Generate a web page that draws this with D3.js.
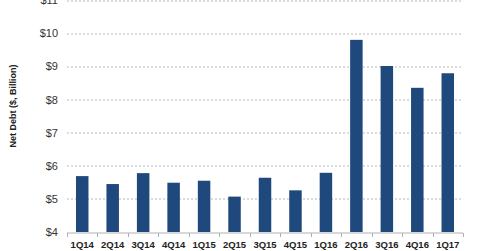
<!DOCTYPE html>
<html>
<head>
<meta charset="utf-8">
<script src="https://cdn.jsdelivr.net/npm/d3@7"></script>
<style>
  body { margin: 0; background: #fff; }
  #chart { width: 480px; height: 251px; }
  text { font-family: "Liberation Sans", Arial, sans-serif; }
</style>
</head>
<body>
<div id="chart"></div>
<script>
const quarters = ["1Q14", "2Q14", "3Q14", "4Q14", "1Q15", "2Q15", "3Q15", "4Q15", "1Q16", "2Q16", "3Q16", "4Q16", "1Q17"];
const netDebt = [5.69, 5.45, 5.78, 5.49, 5.55, 5.07, 5.64, 5.26, 5.79, 9.81, 9.02, 8.36, 8.80];
const yTicks = [4, 5, 6, 7, 8, 9, 10, 11];

const width = 480, height = 251;
const margin = { top: 0.5, right: 17, bottom: 19, left: 67 };
const w = width - margin.left - margin.right;
const h = height - margin.top - margin.bottom;

const svg = d3.select("#chart").append("svg")
    .attr("width", width)
    .attr("height", height);

const g = svg.append("g")
    .attr("transform", `translate(${margin.left},${margin.top})`);

const x = d3.scaleBand().domain(quarters).range([0, w]).paddingInner(0.59).paddingOuter(0.295);
const y = d3.scaleLinear().domain([4, 11]).range([h, 0]);

// gridlines
g.selectAll(".grid")
    .data(yTicks.filter(d => d > 4))
    .enter().append("line")
    .attr("x1", 0).attr("x2", w)
    .attr("y1", d => Math.round(y(d)) + 0.5)
    .attr("y2", d => Math.round(y(d)) + 0.5)
    .attr("stroke", "#b8b8b8")
    .attr("stroke-dasharray", "2,2");

// y labels
g.selectAll(".ylab")
    .data(yTicks)
    .enter().append("text")
    .attr("x", -9)
    .attr("y", d => y(d))
    .attr("dy", "0.35em")
    .attr("text-anchor", "end")
    .style("font-size", "11px")
    .style("fill", "#333")
    .text(d => "$" + d);

// bars
g.selectAll(".bar")
    .data(quarters)
    .enter().append("rect")
    .attr("x", d => x(d))
    .attr("width", x.bandwidth())
    .attr("y", (d, i) => y(netDebt[i]))
    .attr("height", (d, i) => h - y(netDebt[i]))
    .attr("fill", "#1f497d");

// x axis
const xAxis = g.append("g")
    .attr("transform", `translate(0,${Math.round(h) + 0.5})`);
xAxis.append("line")
    .attr("x1", 0).attr("x2", w)
    .attr("stroke", "#b0b0b0");
const step = x.step();
xAxis.selectAll(".tick")
    .data(d3.range(quarters.length + 1))
    .enter().append("line")
    .attr("x1", i => Math.round(i * step) + 0.5)
    .attr("x2", i => Math.round(i * step) + 0.5)
    .attr("y1", 0).attr("y2", 4)
    .attr("stroke", "#b0b0b0");
xAxis.selectAll(".xlab")
    .data(quarters)
    .enter().append("text")
    .attr("x", d => x(d) + x.bandwidth() / 2)
    .attr("y", 15)
    .attr("text-anchor", "middle")
    .style("font-size", "9.5px")
    .style("font-weight", "bold")
    .style("fill", "#222")
    .text(d => d);

// y title
svg.append("text")
    .attr("transform", "translate(16,106) rotate(-90)")
    .attr("text-anchor", "middle")
    .style("font-size", "9px")
    .style("font-weight", "bold")
    .style("fill", "#222")
    .text("Net Debt ($, Billion)");
</script>
</body>
</html>
